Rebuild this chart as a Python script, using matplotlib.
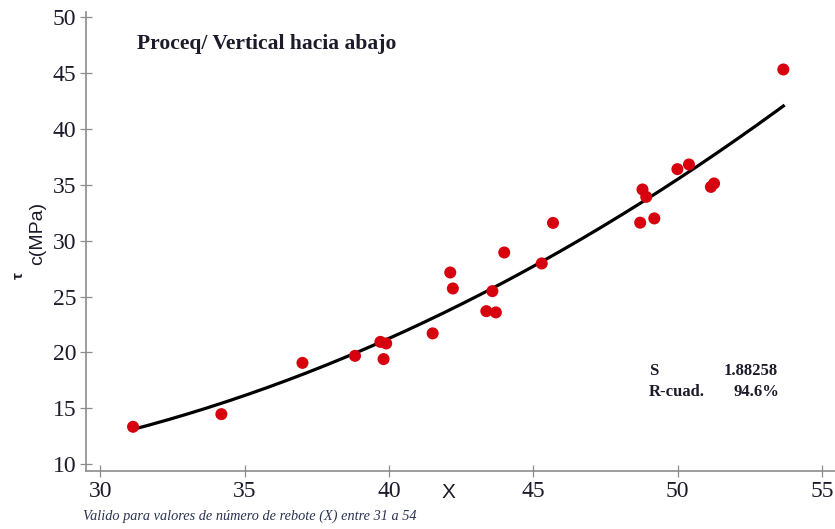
import matplotlib
matplotlib.use("Agg")
import matplotlib.pyplot as plt
import numpy as np

# Datos: número de rebote (X) vs resistencia a compresión (MPa)
rebote = [31.13, 34.19, 37.00, 38.82, 39.70, 39.90, 39.81, 41.51, 42.12, 42.21,
          43.37, 43.70, 43.58, 43.99, 45.29, 45.68, 48.70, 48.78, 48.91, 49.19,
          49.99, 50.39, 51.15, 51.26, 53.66]
tau_c = [13.34, 14.47, 19.06, 19.69, 20.94, 20.80, 19.40, 21.70, 27.15, 25.72,
         23.69, 23.58, 25.48, 28.94, 27.96, 31.59, 31.61, 34.58, 33.92, 31.99,
         36.40, 36.82, 34.81, 35.12, 45.32]

x_ticks = [30, 35, 40, 45, 50, 55]
y_ticks = [10, 15, 20, 25, 30, 35, 40, 45, 50]

s_val = "1.88258"
r2_val = "94.6%"

serif = ["Liberation Serif", "DejaVu Serif"]
sans = ["Liberation Sans", "DejaVu Sans"]
txt_col = "#1b1b2a"
axis_col = "#8c8c8c"

fig = plt.figure(figsize=(8.35, 5.29), dpi=100)
ax = fig.add_axes([0.103, 0.110, 0.897, 0.867])

# ajuste cuadrático
coef = np.polyfit(rebote, tau_c, 2)
xf = np.linspace(min(rebote), max(rebote), 200)
ax.plot(xf, np.polyval(coef, xf), color="black", lw=2.3, zorder=2)

ax.scatter(rebote, tau_c, s=75, color="#d6000f", edgecolors="none", zorder=3)

ax.set_xlim(29.5, 55.45)
ax.set_ylim(9.4, 50.45)
ax.set_xticks(x_ticks)
ax.set_yticks(y_ticks)
ax.tick_params(direction="inout", length=8, width=0.9, color=axis_col,
               labelsize=17, labelcolor=txt_col, pad=3)
for lab in ax.get_xticklabels() + ax.get_yticklabels():
    lab.set_fontfamily(serif)

for side in ["top", "right"]:
    ax.spines[side].set_visible(False)
for side in ["left", "bottom"]:
    ax.spines[side].set_color(axis_col)
    ax.spines[side].set_linewidth(1.2)

ax.text(0.068, 0.930, "Proceq/ Vertical hacia abajo", transform=ax.transAxes,
        fontsize=15.5, fontweight="bold", family=serif, color=txt_col,
        ha="left", va="center")

# estadísticos del ajuste
ax.text(0.752, 0.218, "S", transform=ax.transAxes, fontsize=12,
        fontweight="bold", family=serif, color=txt_col, ha="left", va="center")
ax.text(0.924, 0.218, s_val, transform=ax.transAxes, fontsize=12,
        fontweight="bold", family=serif, color=txt_col, ha="right", va="center")
ax.text(0.752, 0.172, "R-cuad.", transform=ax.transAxes, fontsize=12,
        fontweight="bold", family=serif, color=txt_col, ha="left", va="center")
ax.text(0.926, 0.172, r2_val, transform=ax.transAxes, fontsize=12,
        fontweight="bold", family=serif, color=txt_col, ha="right", va="center")

# etiquetas de ejes
fig.text(448 / 835, 1 - 493 / 529, "X", fontsize=15, family=sans,
         color=txt_col, ha="center", va="center")
fig.text(19 / 835, 1 - 276 / 529, "τ", fontsize=11, family=sans,
         fontweight="bold", color=txt_col, ha="center", va="center",
         rotation=90)
fig.text(38 / 835, 1 - 233 / 529, "c(MPa)", fontsize=14, family=sans,
         color=txt_col, ha="center", va="center", rotation=90)

fig.text(83 / 835, 1 - 516 / 529,
         "Valido para valores de número de rebote (X) entre 31 a 54",
         fontsize=10.3, family=serif, style="italic", color="#2a3350",
         ha="left", va="center")

fig.savefig("out.png", dpi=100)
